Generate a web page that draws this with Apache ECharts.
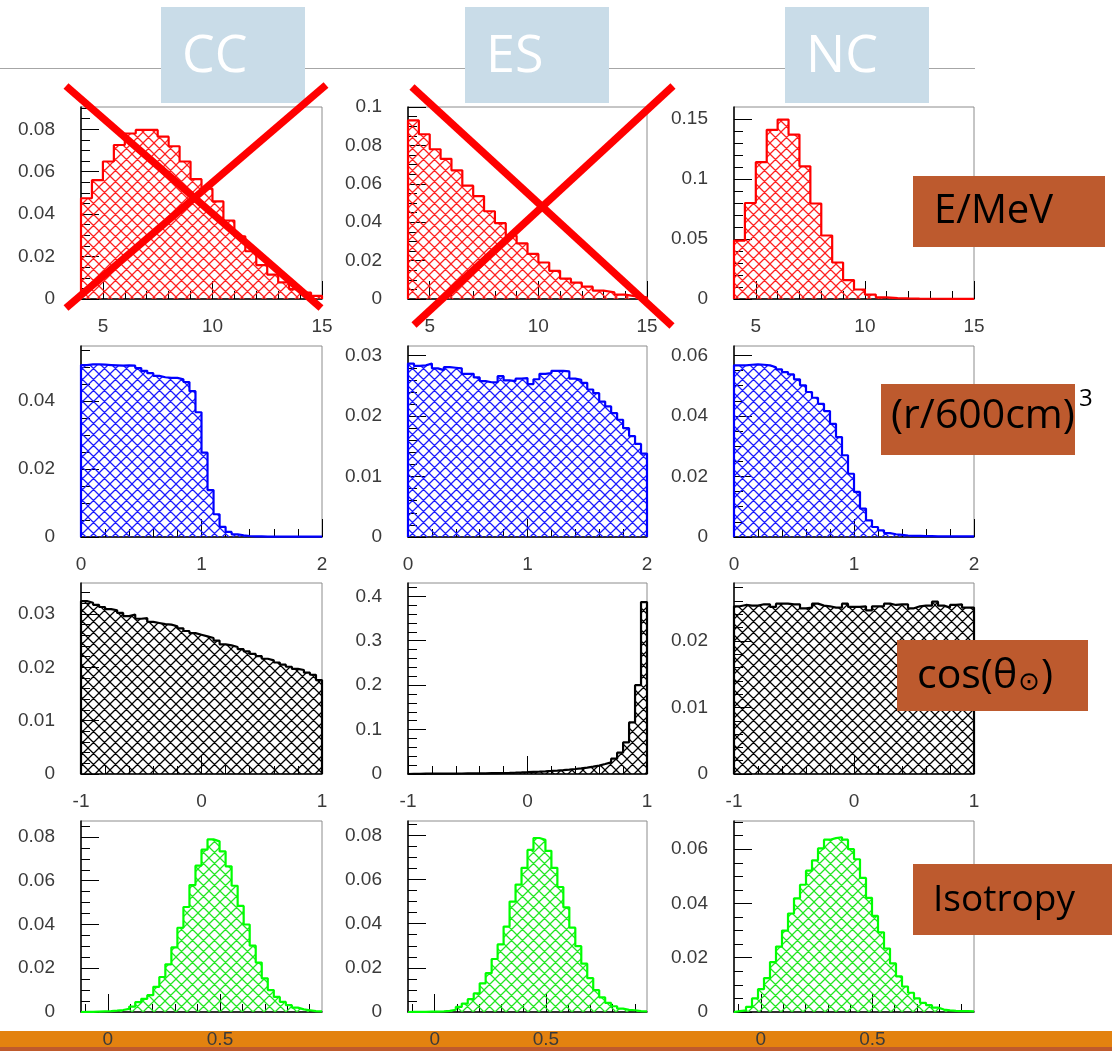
<!DOCTYPE html>
<html>
<head>
<meta charset="utf-8">
<title>CC / ES / NC event distributions</title>
<script src="https://cdn.jsdelivr.net/npm/echarts@6/dist/echarts.min.js"></script>
<style>
  html, body { margin: 0; padding: 0; background: #ffffff; }
  #chart { width: 1112px; height: 1051px; }
</style>
</head>
<body>
<div id="chart"></div>
<script>
// ---------------- histogram contents (normalised per bin) ----------------
// Energy, 22 bins of 0.5 MeV between 4 and 15 MeV
const energyRange = [4, 15];
const ccEnergy = [0.0475, 0.056, 0.0648, 0.0726, 0.078, 0.0797, 0.0797, 0.0765, 0.072, 0.0648,
                  0.0565, 0.052, 0.046, 0.037, 0.0295, 0.0225, 0.016, 0.0115, 0.0078, 0.0047,
                  0.003, 0.0015];
const esEnergy = [0.093, 0.0858, 0.078, 0.073, 0.067, 0.059, 0.0536, 0.0457, 0.0395, 0.033,
                  0.029, 0.0235, 0.019, 0.0147, 0.0106, 0.0085, 0.0064, 0.0044, 0.0035, 0.0023,
                  0.0014, 0.0008];
const ncEnergy = [0.0487, 0.080, 0.114, 0.141, 0.1495, 0.137, 0.1106, 0.0796, 0.0529, 0.0304,
                  0.0158, 0.0079, 0.0037, 0.0014, 0.0008, 0.0005, 0.0003, 0.0002, 0.0002, 0.0001,
                  0.0001, 0.0001];

// (r/600cm)^3, 40 bins between 0 and 2
const radiusRange = [0, 2];
const ccRadius = [0.0506, 0.0508, 0.0508, 0.0507, 0.0506, 0.0505, 0.0504, 0.0505, 0.0504, 0.0497,
                  0.0489, 0.0482, 0.0474, 0.0470, 0.0468, 0.0468, 0.0464, 0.0456, 0.0429, 0.0367,
                  0.0248, 0.0138, 0.0067, 0.0030, 0.0015, 0.0008, 0.0005, 0.0003, 0.0002, 0.0002,
                  0.0001, 0.0001, 0.0001, 0.0001, 0.0001, 0.0001, 0.0001, 0.0001, 0.0001, 0.0001];
const esRadius = [0.0287, 0.0283, 0.0284, 0.0287, 0.0279, 0.0276, 0.0281, 0.0280, 0.0279, 0.0270,
                  0.0270, 0.0264, 0.0258, 0.0256, 0.0256, 0.0266, 0.0259, 0.0258, 0.0262, 0.0263,
                  0.0253, 0.0261, 0.0270, 0.0271, 0.0275, 0.0275, 0.0274, 0.0262, 0.0260, 0.0255,
                  0.0244, 0.0238, 0.0224, 0.0216, 0.0205, 0.0194, 0.0180, 0.0167, 0.0154, 0.0138];
const ncRadius = [0.0567, 0.0567, 0.0569, 0.0570, 0.0569, 0.0567, 0.0561, 0.0554, 0.0545, 0.0537,
                  0.0521, 0.0501, 0.0479, 0.0460, 0.0440, 0.0416, 0.0374, 0.0330, 0.0270, 0.0209,
                  0.0149, 0.0094, 0.0055, 0.0033, 0.0022, 0.0013, 0.0009, 0.0007, 0.0005, 0.0004,
                  0.0004, 0.0003, 0.0003, 0.0002, 0.0002, 0.0002, 0.0002, 0.0002, 0.0002, 0.0002];

// cos(theta_sun), 40 bins between -1 and 1
const cosRange = [-1, 1];
const ccCos = [0.0324, 0.0321, 0.0317, 0.0313, 0.0309, 0.0307, 0.0302, 0.0296, 0.0299, 0.0291,
               0.0292, 0.0285, 0.0283, 0.0281, 0.0280, 0.0277, 0.0273, 0.0268, 0.0264, 0.0261,
               0.0258, 0.0255, 0.0250, 0.0243, 0.0241, 0.0238, 0.0234, 0.0230, 0.0225, 0.0221,
               0.0216, 0.0213, 0.0209, 0.0205, 0.0201, 0.0197, 0.0195, 0.0190, 0.0186, 0.0176];
const esCos = [0.0006, 0.0006, 0.0007, 0.0007, 0.0008, 0.0008, 0.0009, 0.0010, 0.0011, 0.0012,
               0.0013, 0.0014, 0.0016, 0.0018, 0.0020, 0.0023, 0.0026, 0.0030, 0.0035, 0.0041,
               0.0048, 0.0054, 0.0061, 0.0069, 0.0078, 0.0088, 0.0099, 0.0112, 0.0127, 0.0145,
               0.0165, 0.0190, 0.0225, 0.0262, 0.0345, 0.0480, 0.0710, 0.1160, 0.2000, 0.3870];
const ncCos = [0.0252, 0.0254, 0.0253, 0.0253, 0.0255, 0.0255, 0.0251, 0.0256, 0.0256, 0.0255,
               0.0255, 0.0249, 0.0250, 0.0256, 0.0253, 0.0252, 0.0250, 0.0250, 0.0256, 0.0251,
               0.0251, 0.0252, 0.0246, 0.0252, 0.0252, 0.0256, 0.0254, 0.0255, 0.0255, 0.0249,
               0.0252, 0.0253, 0.0253, 0.0259, 0.0253, 0.0250, 0.0254, 0.0255, 0.0250, 0.0250];

// Isotropy parameter, 40 bins
const isoRange = [-0.12, 0.955];
const ccIso = [0.0001, 0.0001, 0.0002, 0.0003, 0.0004, 0.0006, 0.0009, 0.0014, 0.0025, 0.0045,
               0.0060, 0.0077, 0.0115, 0.0160, 0.0218, 0.0295, 0.0385, 0.0480, 0.0580, 0.0669,
               0.0742, 0.0789, 0.0780, 0.0734, 0.0666, 0.0577, 0.0485, 0.0400, 0.0303, 0.0226,
               0.0154, 0.0100, 0.0069, 0.0046, 0.0031, 0.0020, 0.0012, 0.0008, 0.0004, 0.0003];
const esIso = [0.0001, 0.0001, 0.0001, 0.0002, 0.0002, 0.0003, 0.0005, 0.0010, 0.0023, 0.0038,
               0.0058, 0.0084, 0.0130, 0.0176, 0.0240, 0.0306, 0.0387, 0.0500, 0.0577, 0.0653,
               0.0734, 0.0788, 0.0780, 0.0730, 0.0653, 0.0566, 0.0474, 0.0382, 0.0298, 0.0219,
               0.0153, 0.0099, 0.0066, 0.0041, 0.0026, 0.0015, 0.0010, 0.0008, 0.0004, 0.0003];
const ncIso = [0.0003, 0.0006, 0.0019, 0.0050, 0.0084, 0.0125, 0.0184, 0.0241, 0.0300, 0.0363,
               0.0419, 0.0469, 0.0521, 0.0559, 0.0603, 0.0635, 0.0641, 0.0644, 0.0635, 0.0600,
               0.0563, 0.0494, 0.0421, 0.0354, 0.0294, 0.0234, 0.0179, 0.0131, 0.0094, 0.0071,
               0.0050, 0.0034, 0.0025, 0.0016, 0.0009, 0.0006, 0.0004, 0.0003, 0.0003, 0.0002];

// ---------------- tick labels ----------------
const energyTicks = [5, 10, 15];
const radiusTicks = [0, 1, 2];
const cosTicks = [-1, 0, 1];
const isoTicks = [0, 0.5];

const yTicksCCEnergy = [0, 0.02, 0.04, 0.06, 0.08];
const yTicksESEnergy = [0, 0.02, 0.04, 0.06, 0.08, 0.1];
const yTicksNCEnergy = [0, 0.05, 0.1, 0.15];
const yTicksCCRadius = [0, 0.02, 0.04];
const yTicksESRadius = [0, 0.01, 0.02, 0.03];
const yTicksNCRadius = [0, 0.02, 0.04, 0.06];
const yTicksCCCos = [0, 0.01, 0.02, 0.03];
const yTicksESCos = [0, 0.1, 0.2, 0.3, 0.4];
const yTicksNCCos = [0, 0.01, 0.02];
const yTicksCCIso = [0, 0.02, 0.04, 0.06, 0.08];
const yTicksESIso = [0, 0.02, 0.04, 0.06, 0.08];
const yTicksNCIso = [0, 0.02, 0.04, 0.06];

// ---------------- layout ----------------
const colLeft = [81, 408, 734];
const colWidth = [241, 239, 240];
const rowTop = [107, 346, 583, 821];
const rowHeight = [192, 191, 191, 191];

const AXIS_FONT = '"Liberation Sans", Arial, sans-serif';
const BOX_FONT = '"Open Sans", "Noto Sans", sans-serif';

const RED = { line: '#ff0000', hatch: '#ff2020' };
const BLUE = { line: '#0000ff', hatch: '#1a1aff' };
const BLACK = { line: '#000000', hatch: '#000000' };
const GREEN = { line: '#00ff00', hatch: '#22e622' };

// rows: quantity, x range, x ticks, x minor step, colour
const rows = [
  { range: energyRange, xTicks: energyTicks, xMinor: 1, color: RED,
    panels: [
      { data: ccEnergy, yMax: 0.0905, yTicks: yTicksCCEnergy, yMinor: 0.005 },
      { data: esEnergy, yMax: 0.1, yTicks: yTicksESEnergy, yMinor: 0.005 },
      { data: ncEnergy, yMax: 0.16, yTicks: yTicksNCEnergy, yMinor: 0.01 }] },
  { range: radiusRange, xTicks: radiusTicks, xMinor: 0.2, color: BLUE,
    panels: [
      { data: ccRadius, yMax: 0.0562, yTicks: yTicksCCRadius, yMinor: 0.005 },
      { data: esRadius, yMax: 0.0316, yTicks: yTicksESRadius, yMinor: 0.002 },
      { data: ncRadius, yMax: 0.0631, yTicks: yTicksNCRadius, yMinor: 0.005 }] },
  { range: cosRange, xTicks: cosTicks, xMinor: 0.2, color: BLACK,
    panels: [
      { data: ccCos, yMax: 0.0358, yTicks: yTicksCCCos, yMinor: 0.002 },
      { data: esCos, yMax: 0.43, yTicks: yTicksESCos, yMinor: 0.02 },
      { data: ncCos, yMax: 0.0287, yTicks: yTicksNCCos, yMinor: 0.002 }] },
  { range: isoRange, xTicks: isoTicks, xMinor: 0.1, color: GREEN,
    panels: [
      { data: ccIso, yMax: 0.0873, yTicks: yTicksCCIso, yMinor: 0.005 },
      { data: esIso, yMax: 0.0865, yTicks: yTicksESIso, yMinor: 0.005 },
      { data: ncIso, yMax: 0.0704, yTicks: yTicksNCIso, yMinor: 0.005 }] }
];

// cross-hatch tile used as the area fill
function hatchTile(color, size) {
  const c = document.createElement('canvas');
  c.width = size; c.height = size;
  const g = c.getContext('2d');
  g.strokeStyle = color;
  g.lineWidth = 1.25;
  g.beginPath();
  for (const o of [-size, 0, size]) {
    g.moveTo(o - 1, -1); g.lineTo(o + size + 1, size + 1);
    g.moveTo(o - 1, size + 1); g.lineTo(o + size + 1, -1);
  }
  g.stroke();
  return c;
}

// step outline of a histogram: bin edges from the range, heights from the values
function histPoints(values, range) {
  const n = values.length;
  const w = (range[1] - range[0]) / n;
  const pts = [[range[0], 0]];
  values.forEach((v, i) => pts.push([range[0] + i * w, v]));
  pts.push([range[1], values[n - 1]]);
  pts.push([range[1], 0]);
  return pts;
}

function minorTicks(min, max, step, majors) {
  const out = [];
  for (let k = Math.ceil(min / step - 1e-9); k * step < max - 1e-9; k++) {
    const v = +(k * step).toFixed(6);
    if (v <= min + 1e-9) continue;
    if (majors.some(m => Math.abs(m - v) < 1e-9)) continue;
    out.push(v);
  }
  return out;
}

const grids = [], xAxes = [], yAxes = [], series = [];

rows.forEach((row, r) => {
  const tile = hatchTile(row.color.hatch, 11);
  row.panels.forEach((p, c) => {
    const idx = grids.length;
    grids.push({
      left: colLeft[c], top: rowTop[r], width: colWidth[c], height: rowHeight[r],
      show: true, borderColor: '#8c8c8c', borderWidth: 1, backgroundColor: 'transparent',
      outerBoundsMode: 'none'
    });
    const xMin = row.range[0], xMax = row.range[1];
    // major x ticks + labels
    xAxes.push({
      type: 'value', gridIndex: idx, position: 'bottom', min: xMin, max: xMax,
      axisLine: { show: true, onZero: false, lineStyle: { color: '#000', width: 1.5 } },
      axisTick: { show: true, inside: true, length: 18, customValues: row.xTicks,
                  lineStyle: { color: '#000', width: 1 } },
      axisLabel: { show: true, customValues: row.xTicks, margin: 18, fontSize: 19,
                   fontFamily: AXIS_FONT, color: '#3a3a3a' },
      splitLine: { show: false }
    });
    // minor x ticks
    xAxes.push({
      type: 'value', gridIndex: idx, position: 'bottom', min: xMin, max: xMax,
      axisLine: { show: false, onZero: false },
      axisTick: { show: true, inside: true, length: 8,
                  customValues: minorTicks(xMin, xMax, row.xMinor, row.xTicks),
                  lineStyle: { color: '#000', width: 1 } },
      axisLabel: { show: false }, splitLine: { show: false }
    });
    yAxes.push({
      type: 'value', gridIndex: idx, position: 'left', min: 0, max: p.yMax,
      axisLine: { show: true, onZero: false, lineStyle: { color: '#000', width: 1.5 } },
      axisTick: { show: true, inside: true, length: 18, customValues: p.yTicks,
                  lineStyle: { color: '#000', width: 1 } },
      axisLabel: { show: true, customValues: p.yTicks, margin: 26, fontSize: 19,
                   fontFamily: AXIS_FONT, color: '#3a3a3a' },
      splitLine: { show: false }
    });
    yAxes.push({
      type: 'value', gridIndex: idx, position: 'left', min: 0, max: p.yMax,
      axisLine: { show: false, onZero: false },
      axisTick: { show: true, inside: true, length: 9,
                  customValues: minorTicks(0, p.yMax, p.yMinor, p.yTicks),
                  lineStyle: { color: '#000', width: 1 } },
      axisLabel: { show: false }, splitLine: { show: false }
    });
    series.push({
      type: 'line', xAxisIndex: idx * 2, yAxisIndex: idx * 2,
      data: histPoints(p.data, row.range),
      step: 'end', showSymbol: false, symbol: 'none', clip: true,
      lineStyle: { color: row.color.line, width: 2.2 },
      areaStyle: { color: { image: tile, repeat: 'repeat' }, opacity: 1 },
      z: 2
    });
  });
});

// ---------------- decorations ----------------
const graphics = [];
// bottom band
graphics.push({ type: 'rect', shape: { x: 0, y: 1031, width: 1112, height: 16 },
                style: { fill: '#e3820f' }, z: -10 });
graphics.push({ type: 'rect', shape: { x: 0, y: 1047, width: 1112, height: 4 },
                style: { fill: '#bf5a2c' }, z: -10 });
// header rule and channel boxes
graphics.push({ type: 'line', shape: { x1: 0, y1: 68.5, x2: 975, y2: 68.5 },
                style: { stroke: '#a6a6a6', lineWidth: 1 }, z: -5 });
[['CC', 161], ['ES', 465], ['NC', 785]].forEach(([t, x]) => {
  graphics.push({ type: 'rect', shape: { x: x, y: 7, width: 144, height: 96 },
                  style: { fill: '#c9dce8' }, z: 5 });
  graphics.push({ type: 'text', z: 6,
                  style: { text: t, x: x + 21, y: 57, fill: '#ffffff', font: '52px ' + BOX_FONT,
                           textAlign: 'left', textVerticalAlign: 'middle' } });
});
// crossed-out energy panels
const crosses = [
  [[66, 86], [321, 308]], [[66, 308], [326, 85]],
  [[412, 87], [672, 326]], [[414, 325], [673, 86]]
];
crosses.forEach(([a, b]) => {
  graphics.push({ type: 'line', shape: { x1: a[0], y1: a[1], x2: b[0], y2: b[1] },
                  style: { stroke: '#ff0000', lineWidth: 7.5, lineCap: 'butt' }, z: 60 });
});
// variable labels
const BROWN = '#bd5a2e';
const labelBoxes = [
  { x: 913, y: 176, w: 192, h: 71 },
  { x: 881, y: 384, w: 194, h: 71 },
  { x: 897, y: 640, w: 191, h: 71 },
  { x: 913, y: 864, w: 199, h: 71 }
];
labelBoxes.forEach(b => graphics.push({ type: 'rect', shape: { x: b.x, y: b.y, width: b.w, height: b.h },
                                        style: { fill: BROWN }, z: 60 }));
graphics.push({ type: 'text', z: 61,
  style: { text: 'E/MeV', x: 934, y: 212, fill: '#000', font: '40px ' + BOX_FONT,
           textAlign: 'left', textVerticalAlign: 'middle' } });
graphics.push({ type: 'text', z: 61,
  style: { text: '(r/600cm)', x: 891, y: 416, fill: '#000', font: '41px ' + BOX_FONT,
           textAlign: 'left', textVerticalAlign: 'middle' } });
graphics.push({ type: 'text', z: 61,
  style: { text: '3', x: 1079, y: 399, fill: '#000', font: '24px ' + BOX_FONT,
           textAlign: 'left', textVerticalAlign: 'middle' } });
graphics.push({ type: 'text', z: 61,
  style: { text: 'cos(θ{d|⊙})', x: 917, y: 676, fill: '#000', font: '41px ' + BOX_FONT,
           textAlign: 'left', textVerticalAlign: 'middle',
           rich: { d: { fontSize: 26, fontFamily: '"DejaVu Sans", sans-serif', fill: '#000',
                        verticalAlign: 'bottom', padding: [0, 1, 0, 1] } } } });
graphics.push({ type: 'text', z: 61,
  style: { text: 'Isotropy', x: 933, y: 900, fill: '#000', font: '37px ' + BOX_FONT,
           textAlign: 'left', textVerticalAlign: 'middle' } });

const chart = echarts.init(document.getElementById('chart'), null, { renderer: 'canvas' });
chart.setOption({
  animation: false,
  backgroundColor: '#ffffff',
  grid: grids,
  xAxis: xAxes,
  yAxis: yAxes,
  series: series,
  graphic: { elements: graphics }
});
</script>
</body>
</html>
